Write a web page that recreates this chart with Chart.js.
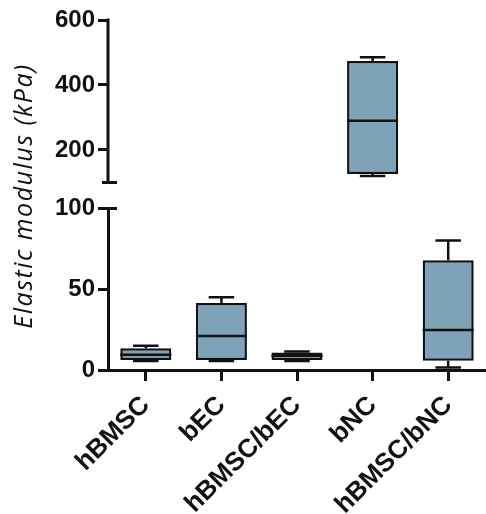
<!DOCTYPE html>
<html lang="en">
<head>
    <meta charset="UTF-8">
    <title>Elastic modulus</title>
    <style>
        body { margin: 0; background: #fff; }
        #wrap { width: 486px; height: 514px; }
    </style>
    <script src="https://cdn.jsdelivr.net/npm/chart.js@4.4.0/dist/chart.umd.min.js"></script>
</head>
<body>
    <div id="wrap"><canvas id="boxChart"></canvas></div>
    <script>
        // box plot values (kPa)
        var categories = ['hBMSC', 'bEC', 'hBMSC/bEC', 'bNC', 'hBMSC/bNC'];
        var minVals = [5.5, 5.5, 5.5, 120, 1.5];
        var q1Vals = [6.2, 6.2, 6.2, 126, 5.8];
        var medVals = [9.5, 21, 8.8, 290, 24.7];
        var q3Vals = [13.5, 41.5, 10.9, 474, 67.9];
        var maxVals = [15, 45, 11.4, 485, 80.2];
        var onTopAxis = [false, false, false, true, false];
        var topTicks = [200, 400, 600];
        var bottomTicks = [0, 50, 100];
        var topBreak = 100;

        var boxFill = '#7ea3b9';
        var ink = '#111';
        var tickFont = { family: 'Liberation Sans, Arial', size: 24, weight: 'bold' };

        var bottomBoxes = categories.map(function (c, i) { return onTopAxis[i] ? null : [q1Vals[i], q3Vals[i]]; });
        var topBoxes = categories.map(function (c, i) { return onTopAxis[i] ? [q1Vals[i], q3Vals[i]] : null; });

        var boxPlot = {
            id: 'boxPlot',
            afterDatasetsDraw: function (chart) {
                var ctx = chart.ctx;
                var xs = chart.scales.x;
                ctx.save();
                ctx.strokeStyle = ink;
                ctx.lineWidth = 2.5;
                categories.forEach(function (c, i) {
                    var ds = onTopAxis[i] ? 1 : 0;
                    var ys = chart.scales[onTopAxis[i] ? 'yTop' : 'yBot'];
                    var bar = chart.getDatasetMeta(ds).data[i];
                    var cx = xs.getPixelForValue(i);
                    var half = bar.width / 2;
                    var cap = bar.width / 4;
                    ctx.beginPath();
                    // median
                    ctx.moveTo(cx - half, ys.getPixelForValue(medVals[i]));
                    ctx.lineTo(cx + half, ys.getPixelForValue(medVals[i]));
                    // whiskers
                    ctx.moveTo(cx, ys.getPixelForValue(q3Vals[i]));
                    ctx.lineTo(cx, ys.getPixelForValue(maxVals[i]));
                    ctx.moveTo(cx - cap, ys.getPixelForValue(maxVals[i]));
                    ctx.lineTo(cx + cap, ys.getPixelForValue(maxVals[i]));
                    ctx.moveTo(cx, ys.getPixelForValue(q1Vals[i]));
                    ctx.lineTo(cx, ys.getPixelForValue(minVals[i]));
                    ctx.moveTo(cx - cap, ys.getPixelForValue(minVals[i]));
                    ctx.lineTo(cx + cap, ys.getPixelForValue(minVals[i]));
                    ctx.stroke();
                });
                ctx.restore();
            },
            afterDraw: function (chart) {
                var ctx = chart.ctx;
                var yt = chart.scales.yTop;
                var yb = chart.scales.yBot;
                var left = chart.chartArea.left;
                ctx.save();
                ctx.strokeStyle = ink;
                ctx.lineWidth = 3;
                ctx.beginPath();
                // upper axis segment, ends at the break
                ctx.moveTo(left, yt.getPixelForValue(600) - 1.5);
                ctx.lineTo(left, yt.getPixelForValue(topBreak));
                ctx.moveTo(left - 6, yt.getPixelForValue(topBreak));
                ctx.lineTo(left + 9, yt.getPixelForValue(topBreak));
                // cap on top of the lower segment
                ctx.moveTo(left, yb.getPixelForValue(100));
                ctx.lineTo(left + 9, yb.getPixelForValue(100));
                ctx.stroke();

                // y title
                ctx.translate(25, (chart.chartArea.top + chart.chartArea.bottom) / 2 + 1);
                ctx.rotate(-Math.PI / 2);
                ctx.font = 'italic 25px "Open Sans"';
                ctx.letterSpacing = '1.5px';
                ctx.fillStyle = ink;
                ctx.textAlign = 'center';
                ctx.textBaseline = 'middle';
                ctx.fillText('Elastic modulus (kPa)', 0, 0);
                ctx.restore();
            }
        };

        var yGrid = { drawOnChartArea: false, drawTicks: true, tickLength: 10, tickWidth: 3, color: ink };

        new Chart(document.getElementById('boxChart'), {
            type: 'bar',
            data: {
                labels: categories,
                datasets: [{
                    data: bottomBoxes,
                    yAxisID: 'yBot',
                    backgroundColor: boxFill,
                    borderColor: ink,
                    borderWidth: 2.5,
                    borderSkipped: false,
                    grouped: false,
                    barPercentage: 0.675,
                    categoryPercentage: 1
                }, {
                    data: topBoxes,
                    yAxisID: 'yTop',
                    backgroundColor: boxFill,
                    borderColor: ink,
                    borderWidth: 2.5,
                    borderSkipped: false,
                    grouped: false,
                    barPercentage: 0.675,
                    categoryPercentage: 1
                }]
            },
            options: {
                responsive: true,
                maintainAspectRatio: false,
                animation: false,
                layout: { padding: { top: 20, right: 0, left: 0, bottom: 0 } },
                plugins: { legend: { display: false }, tooltip: { enabled: false } },
                scales: {
                    x: {
                        type: 'category',
                        offset: true,
                        grid: { offset: false, drawOnChartArea: false, drawTicks: true, tickLength: 11, tickWidth: 3, color: ink },
                        border: { display: true, color: ink, width: 3 },
                        ticks: { color: ink, font: { family: 'Liberation Sans, Arial', size: 26, weight: 'bold' }, minRotation: 45, maxRotation: 45, padding: 9 },
                        afterFit: function (s) { s.height = 144; }
                    },
                    // lower segment is listed first: the stack puts it at the bottom
                    yBot: {
                        type: 'linear',
                        position: 'left',
                        stack: 'ybreak',
                        stackWeight: 1,
                        min: 0,
                        max: 100,
                        grid: yGrid,
                        border: { display: true, color: ink, width: 3 },
                        ticks: { color: ink, font: tickFont, padding: 3 },
                        afterBuildTicks: function (s) { s.ticks = bottomTicks.map(function (v) { return { value: v }; }); },
                        afterFit: function (s) { s.width = 108; }
                    },
                    yTop: {
                        type: 'linear',
                        position: 'left',
                        stack: 'ybreak',
                        stackWeight: 1.167,
                        min: 20,
                        max: 600,
                        grid: yGrid,
                        border: { display: false },
                        ticks: { color: ink, font: tickFont, padding: 3 },
                        afterBuildTicks: function (s) { s.ticks = topTicks.map(function (v) { return { value: v }; }); },
                        afterFit: function (s) { s.width = 108; }
                    }
                }
            },
            plugins: [boxPlot]
        });
    </script>
</body>
</html>
